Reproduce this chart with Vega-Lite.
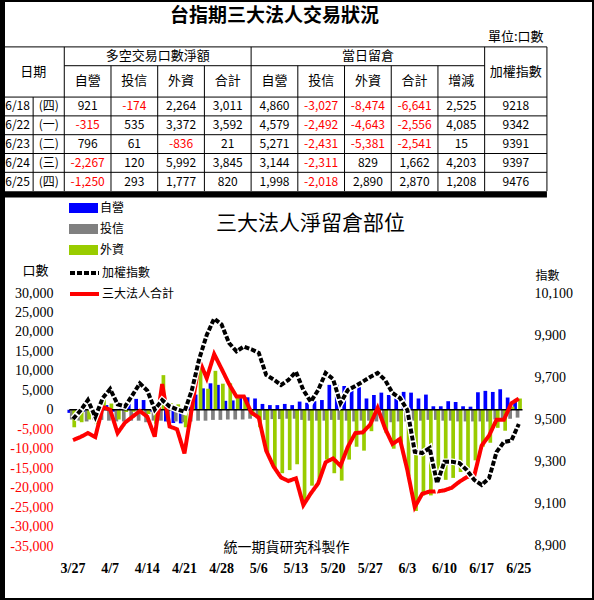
{
  "$schema": "https://vega.github.io/schema/vega-lite/v6.json",
  "width": 594,
  "height": 600,
  "autosize": {"type": "none"},
  "padding": 0,
  "background": "white",
  "config": {"view": {"stroke": "black", "strokeWidth": 4}},
  "datasets": {
    "bars": [
      {"d":"3/27","s":"自營","v":-800},{"d":"3/30","s":"自營","v":-1000},{"d":"3/31","s":"自營","v":-500},{"d":"4/1","s":"自營","v":-800},{"d":"4/2","s":"自營","v":-1000},{"d":"4/7","s":"自營","v":1200},{"d":"4/8","s":"自營","v":-500},{"d":"4/9","s":"自營","v":300},{"d":"4/10","s":"自營","v":1500},{"d":"4/13","s":"自營","v":2800},{"d":"4/14","s":"自營","v":2500},{"d":"4/15","s":"自營","v":-500},{"d":"4/16","s":"自營","v":500},{"d":"4/17","s":"自營","v":-3000},{"d":"4/20","s":"自營","v":-3400},{"d":"4/21","s":"自營","v":-3500},{"d":"4/22","s":"自營","v":800},{"d":"4/23","s":"自營","v":3900},{"d":"4/24","s":"自營","v":5500},{"d":"4/27","s":"自營","v":6800},{"d":"4/28","s":"自營","v":6400},{"d":"4/29","s":"自營","v":2300},{"d":"4/30","s":"自營","v":2400},{"d":"5/4","s":"自營","v":3000},{"d":"5/5","s":"自營","v":3200},{"d":"5/6","s":"自營","v":2900},{"d":"5/7","s":"自營","v":1500},{"d":"5/8","s":"自營","v":1200},{"d":"5/11","s":"自營","v":1200},{"d":"5/12","s":"自營","v":1500},{"d":"5/13","s":"自營","v":1200},{"d":"5/14","s":"自營","v":2100},{"d":"5/15","s":"自營","v":1800},{"d":"5/18","s":"自營","v":2200},{"d":"5/19","s":"自營","v":2500},{"d":"5/20","s":"自營","v":6400},{"d":"5/21","s":"自營","v":6400},{"d":"5/22","s":"自營","v":6100},{"d":"5/25","s":"自營","v":5600},{"d":"5/26","s":"自營","v":5800},{"d":"5/27","s":"自營","v":2900},{"d":"5/28","s":"自營","v":3800},{"d":"5/29","s":"自營","v":4400},{"d":"6/1","s":"自營","v":3800},{"d":"6/2","s":"自營","v":2900},{"d":"6/3","s":"自營","v":4600},{"d":"6/4","s":"自營","v":4400},{"d":"6/5","s":"自營","v":2900},{"d":"6/8","s":"自營","v":3900},{"d":"6/9","s":"自營","v":900},{"d":"6/10","s":"自營","v":900},{"d":"6/11","s":"自營","v":2200},{"d":"6/12","s":"自營","v":2000},{"d":"6/15","s":"自營","v":900},{"d":"6/16","s":"自營","v":800},{"d":"6/17","s":"自營","v":4500},{"d":"6/18","s":"自營","v":4860},{"d":"6/22","s":"自營","v":4579},{"d":"6/23","s":"自營","v":5271},{"d":"6/24","s":"自營","v":3144},{"d":"6/25","s":"自營","v":1998},
      {"d":"3/27","s":"投信","v":-2500},{"d":"3/30","s":"投信","v":-2800},{"d":"3/31","s":"投信","v":-3000},{"d":"4/1","s":"投信","v":-2500},{"d":"4/2","s":"投信","v":-2600},{"d":"4/7","s":"投信","v":-2800},{"d":"4/8","s":"投信","v":-3000},{"d":"4/9","s":"投信","v":-3000},{"d":"4/10","s":"投信","v":-2800},{"d":"4/13","s":"投信","v":-2800},{"d":"4/14","s":"投信","v":-3200},{"d":"4/15","s":"投信","v":-2800},{"d":"4/16","s":"投信","v":-2800},{"d":"4/17","s":"投信","v":-3000},{"d":"4/20","s":"投信","v":-3000},{"d":"4/21","s":"投信","v":-3200},{"d":"4/22","s":"投信","v":-3000},{"d":"4/23","s":"投信","v":-2800},{"d":"4/24","s":"投信","v":-2800},{"d":"4/27","s":"投信","v":-2600},{"d":"4/28","s":"投信","v":-2600},{"d":"4/29","s":"投信","v":-2500},{"d":"4/30","s":"投信","v":-2500},{"d":"5/4","s":"投信","v":-2500},{"d":"5/5","s":"投信","v":-2300},{"d":"5/6","s":"投信","v":-2200},{"d":"5/7","s":"投信","v":-2600},{"d":"5/8","s":"投信","v":-2400},{"d":"5/11","s":"投信","v":-2400},{"d":"5/12","s":"投信","v":-2300},{"d":"5/13","s":"投信","v":-2300},{"d":"5/14","s":"投信","v":-2600},{"d":"5/15","s":"投信","v":-2800},{"d":"5/18","s":"投信","v":-2800},{"d":"5/19","s":"投信","v":-2800},{"d":"5/20","s":"投信","v":-2600},{"d":"5/21","s":"投信","v":-2600},{"d":"5/22","s":"投信","v":-2800},{"d":"5/25","s":"投信","v":-3000},{"d":"5/26","s":"投信","v":-2800},{"d":"5/27","s":"投信","v":-2800},{"d":"5/28","s":"投信","v":-3000},{"d":"5/29","s":"投信","v":-3200},{"d":"6/1","s":"投信","v":-3200},{"d":"6/2","s":"投信","v":-3000},{"d":"6/3","s":"投信","v":-3000},{"d":"6/4","s":"投信","v":-2800},{"d":"6/5","s":"投信","v":-2800},{"d":"6/8","s":"投信","v":-2600},{"d":"6/9","s":"投信","v":-2600},{"d":"6/10","s":"投信","v":-2800},{"d":"6/11","s":"投信","v":-2800},{"d":"6/12","s":"投信","v":-3000},{"d":"6/15","s":"投信","v":-3000},{"d":"6/16","s":"投信","v":-3000},{"d":"6/17","s":"投信","v":-3000},{"d":"6/18","s":"投信","v":-3027},{"d":"6/22","s":"投信","v":-2492},{"d":"6/23","s":"投信","v":-2431},{"d":"6/24","s":"投信","v":-2311},{"d":"6/25","s":"投信","v":-2018},
      {"d":"3/27","s":"外資","v":-4500},{"d":"3/30","s":"外資","v":-3200},{"d":"3/31","s":"外資","v":-2500},{"d":"4/1","s":"外資","v":-3700},{"d":"4/2","s":"外資","v":4300},{"d":"4/7","s":"外資","v":1600},{"d":"4/8","s":"外資","v":-2500},{"d":"4/9","s":"外資","v":-600},{"d":"4/10","s":"外資","v":-500},{"d":"4/13","s":"外資","v":-300},{"d":"4/14","s":"外資","v":-1100},{"d":"4/15","s":"外資","v":-3600},{"d":"4/16","s":"外資","v":8900},{"d":"4/17","s":"外資","v":1700},{"d":"4/20","s":"外資","v":1400},{"d":"4/21","s":"外資","v":-4500},{"d":"4/22","s":"外資","v":2600},{"d":"4/23","s":"外資","v":11500},{"d":"4/24","s":"外資","v":5400},{"d":"4/27","s":"外資","v":10000},{"d":"4/28","s":"外資","v":6700},{"d":"4/29","s":"外資","v":6800},{"d":"4/30","s":"外資","v":3500},{"d":"5/4","s":"外資","v":2900},{"d":"5/5","s":"外資","v":-1600},{"d":"5/6","s":"外資","v":-4500},{"d":"5/7","s":"外資","v":-11000},{"d":"5/8","s":"外資","v":-15000},{"d":"5/11","s":"外資","v":-16300},{"d":"5/12","s":"外資","v":-15500},{"d":"5/13","s":"外資","v":-14000},{"d":"5/14","s":"外資","v":-23800},{"d":"5/15","s":"外資","v":-19500},{"d":"5/18","s":"外資","v":-17800},{"d":"5/19","s":"外資","v":-12800},{"d":"5/20","s":"外資","v":-16300},{"d":"5/21","s":"外資","v":-18200},{"d":"5/22","s":"外資","v":-12800},{"d":"5/25","s":"外資","v":-9500},{"d":"5/26","s":"外資","v":-10500},{"d":"5/27","s":"外資","v":-5500},{"d":"5/28","s":"外資","v":-500},{"d":"5/29","s":"外資","v":-6000},{"d":"6/1","s":"外資","v":-10000},{"d":"6/2","s":"外資","v":-8500},{"d":"6/3","s":"外資","v":-17100},{"d":"6/4","s":"外資","v":-26000},{"d":"6/5","s":"外資","v":-22000},{"d":"6/8","s":"外資","v":-22000},{"d":"6/9","s":"外資","v":-18500},{"d":"6/10","s":"外資","v":-18000},{"d":"6/11","s":"外資","v":-17500},{"d":"6/12","s":"外資","v":-16000},{"d":"6/15","s":"外資","v":-15000},{"d":"6/16","s":"外資","v":-13000},{"d":"6/17","s":"外資","v":-9500},{"d":"6/18","s":"外資","v":-8474},{"d":"6/22","s":"外資","v":-4643},{"d":"6/23","s":"外資","v":-5381},{"d":"6/24","s":"外資","v":829},{"d":"6/25","s":"外資","v":2890}
    ],
    "lines": [
      {"d":"3/27","s":"三大法人合計","v":-7800},{"d":"3/30","s":"三大法人合計","v":-7000},{"d":"3/31","s":"三大法人合計","v":-6000},{"d":"4/1","s":"三大法人合計","v":-7000},{"d":"4/2","s":"三大法人合計","v":700},{"d":"4/7","s":"三大法人合計","v":0},{"d":"4/8","s":"三大法人合計","v":-6000},{"d":"4/9","s":"三大法人合計","v":-3300},{"d":"4/10","s":"三大法人合計","v":-1800},{"d":"4/13","s":"三大法人合計","v":-300},{"d":"4/14","s":"三大法人合計","v":-1800},{"d":"4/15","s":"三大法人合計","v":-6900},{"d":"4/16","s":"三大法人合計","v":6600},{"d":"4/17","s":"三大法人合計","v":-4300},{"d":"4/20","s":"三大法人合計","v":-5000},{"d":"4/21","s":"三大法人合計","v":-11200},{"d":"4/22","s":"三大法人合計","v":400},{"d":"4/23","s":"三大法人合計","v":12600},{"d":"4/24","s":"三大法人合計","v":8100},{"d":"4/27","s":"三大法人合計","v":14300},{"d":"4/28","s":"三大法人合計","v":10500},{"d":"4/29","s":"三大法人合計","v":6600},{"d":"4/30","s":"三大法人合計","v":3400},{"d":"5/4","s":"三大法人合計","v":3400},{"d":"5/5","s":"三大法人合計","v":-700},{"d":"5/6","s":"三大法人合計","v":-2000},{"d":"5/7","s":"三大法人合計","v":-10500},{"d":"5/8","s":"三大法人合計","v":-14600},{"d":"5/11","s":"三大法人合計","v":-17400},{"d":"5/12","s":"三大法人合計","v":-18300},{"d":"5/13","s":"三大法人合計","v":-17600},{"d":"5/14","s":"三大法人合計","v":-24500},{"d":"5/15","s":"三大法人合計","v":-21500},{"d":"5/18","s":"三大法人合計","v":-18900},{"d":"5/19","s":"三大法人合計","v":-13500},{"d":"5/20","s":"三大法人合計","v":-12500},{"d":"5/21","s":"三大法人合計","v":-14400},{"d":"5/22","s":"三大法人合計","v":-9500},{"d":"5/25","s":"三大法人合計","v":-6000},{"d":"5/26","s":"三大法人合計","v":-5800},{"d":"5/27","s":"三大法人合計","v":-3800},{"d":"5/28","s":"三大法人合計","v":500},{"d":"5/29","s":"三大法人合計","v":-4800},{"d":"6/1","s":"三大法人合計","v":-8800},{"d":"6/2","s":"三大法人合計","v":-7500},{"d":"6/3","s":"三大法人合計","v":-15500},{"d":"6/4","s":"三大法人合計","v":-25000},{"d":"6/5","s":"三大法人合計","v":-21600},{"d":"6/8","s":"三大法人合計","v":-21000},{"d":"6/9","s":"三大法人合計","v":-21000},{"d":"6/10","s":"三大法人合計","v":-20700},{"d":"6/11","s":"三大法人合計","v":-20000},{"d":"6/12","s":"三大法人合計","v":-18500},{"d":"6/15","s":"三大法人合計","v":-17300},{"d":"6/16","s":"三大法人合計","v":-17000},{"d":"6/17","s":"三大法人合計","v":-9200},{"d":"6/18","s":"三大法人合計","v":-6641},{"d":"6/22","s":"三大法人合計","v":-2556},{"d":"6/23","s":"三大法人合計","v":-2541},{"d":"6/24","s":"三大法人合計","v":1662},{"d":"6/25","s":"三大法人合計","v":2870},
      {"d":"3/27","s":"加權指數","v":9500},{"d":"3/30","s":"加權指數","v":9540},{"d":"3/31","s":"加權指數","v":9590},{"d":"4/1","s":"加權指數","v":9510},{"d":"4/2","s":"加權指數","v":9600},{"d":"4/7","s":"加權指數","v":9643},{"d":"4/8","s":"加權指數","v":9570},{"d":"4/9","s":"加權指數","v":9560},{"d":"4/10","s":"加權指數","v":9614},{"d":"4/13","s":"加權指數","v":9670},{"d":"4/14","s":"加權指數","v":9635},{"d":"4/15","s":"加權指數","v":9545},{"d":"4/16","s":"加權指數","v":9590},{"d":"4/17","s":"加權指數","v":9560},{"d":"4/20","s":"加權指數","v":9546},{"d":"4/21","s":"加權指數","v":9535},{"d":"4/22","s":"加權指數","v":9638},{"d":"4/23","s":"加權指數","v":9788},{"d":"4/24","s":"加權指數","v":9900},{"d":"4/27","s":"加權指數","v":9978},{"d":"4/28","s":"加權指數","v":9950},{"d":"4/29","s":"加權指數","v":9862},{"d":"4/30","s":"加權指數","v":9822},{"d":"5/4","s":"加權指數","v":9845},{"d":"5/5","s":"加權指數","v":9832},{"d":"5/6","s":"加權指數","v":9815},{"d":"5/7","s":"加權指數","v":9710},{"d":"5/8","s":"加權指數","v":9688},{"d":"5/11","s":"加權指數","v":9662},{"d":"5/12","s":"加權指數","v":9686},{"d":"5/13","s":"加權指數","v":9725},{"d":"5/14","s":"加權指數","v":9638},{"d":"5/15","s":"加權指數","v":9582},{"d":"5/18","s":"加權指數","v":9638},{"d":"5/19","s":"加權指數","v":9719},{"d":"5/20","s":"加權指數","v":9690},{"d":"5/21","s":"加權指數","v":9576},{"d":"5/22","s":"加權指數","v":9638},{"d":"5/25","s":"加權指數","v":9657},{"d":"5/26","s":"加權指數","v":9678},{"d":"5/27","s":"加權指數","v":9700},{"d":"5/28","s":"加權指數","v":9719},{"d":"5/29","s":"加權指數","v":9686},{"d":"6/1","s":"加權指數","v":9624},{"d":"6/2","s":"加權指數","v":9600},{"d":"6/3","s":"加權指數","v":9543},{"d":"6/4","s":"加權指數","v":9344},{"d":"6/5","s":"加權指數","v":9338},{"d":"6/8","s":"加權指數","v":9362},{"d":"6/9","s":"加權指數","v":9195},{"d":"6/10","s":"加權指數","v":9297},{"d":"6/11","s":"加權指數","v":9297},{"d":"6/12","s":"加權指數","v":9290},{"d":"6/15","s":"加權指數","v":9257},{"d":"6/16","s":"加權指數","v":9210},{"d":"6/17","s":"加權指數","v":9186},{"d":"6/18","s":"加權指數","v":9218},{"d":"6/22","s":"加權指數","v":9342},{"d":"6/23","s":"加權指數","v":9391},{"d":"6/24","s":"加權指數","v":9397},{"d":"6/25","s":"加權指數","v":9476}
    ],
    "cellsA": [
      {"row":"6/18","col":"淨額自營","text":"921","v":921},{"row":"6/18","col":"淨額投信","text":"-174","v":-174},{"row":"6/18","col":"淨額外資","text":"2,264","v":2264},{"row":"6/18","col":"淨額合計","text":"3,011","v":3011},{"row":"6/18","col":"留倉自營","text":"4,860","v":4860},{"row":"6/18","col":"留倉投信","text":"-3,027","v":-3027},{"row":"6/18","col":"留倉外資","text":"-8,474","v":-8474},{"row":"6/18","col":"留倉合計","text":"-6,641","v":-6641},{"row":"6/18","col":"增減","text":"2,525","v":2525},
      {"row":"6/22","col":"淨額自營","text":"-315","v":-315},{"row":"6/22","col":"淨額投信","text":"535","v":535},{"row":"6/22","col":"淨額外資","text":"3,372","v":3372},{"row":"6/22","col":"淨額合計","text":"3,592","v":3592},{"row":"6/22","col":"留倉自營","text":"4,579","v":4579},{"row":"6/22","col":"留倉投信","text":"-2,492","v":-2492},{"row":"6/22","col":"留倉外資","text":"-4,643","v":-4643},{"row":"6/22","col":"留倉合計","text":"-2,556","v":-2556},{"row":"6/22","col":"增減","text":"4,085","v":4085},
      {"row":"6/23","col":"淨額自營","text":"796","v":796},{"row":"6/23","col":"淨額投信","text":"61","v":61},{"row":"6/23","col":"淨額外資","text":"-836","v":-836},{"row":"6/23","col":"淨額合計","text":"21","v":21},{"row":"6/23","col":"留倉自營","text":"5,271","v":5271},{"row":"6/23","col":"留倉投信","text":"-2,431","v":-2431},{"row":"6/23","col":"留倉外資","text":"-5,381","v":-5381},{"row":"6/23","col":"留倉合計","text":"-2,541","v":-2541},{"row":"6/23","col":"增減","text":"15","v":15},
      {"row":"6/24","col":"淨額自營","text":"-2,267","v":-2267},{"row":"6/24","col":"淨額投信","text":"120","v":120},{"row":"6/24","col":"淨額外資","text":"5,992","v":5992},{"row":"6/24","col":"淨額合計","text":"3,845","v":3845},{"row":"6/24","col":"留倉自營","text":"3,144","v":3144},{"row":"6/24","col":"留倉投信","text":"-2,311","v":-2311},{"row":"6/24","col":"留倉外資","text":"829","v":829},{"row":"6/24","col":"留倉合計","text":"1,662","v":1662},{"row":"6/24","col":"增減","text":"4,203","v":4203},
      {"row":"6/25","col":"淨額自營","text":"-1,250","v":-1250},{"row":"6/25","col":"淨額投信","text":"293","v":293},{"row":"6/25","col":"淨額外資","text":"1,777","v":1777},{"row":"6/25","col":"淨額合計","text":"820","v":820},{"row":"6/25","col":"留倉自營","text":"1,998","v":1998},{"row":"6/25","col":"留倉投信","text":"-2,018","v":-2018},{"row":"6/25","col":"留倉外資","text":"2,890","v":2890},{"row":"6/25","col":"留倉合計","text":"2,870","v":2870},{"row":"6/25","col":"增減","text":"1,208","v":1208}
    ],
    "cellsB": [
      {"row":"6/18","col":"日","text":"6/18"},{"row":"6/18","col":"星期","text":"(四)"},{"row":"6/18","col":"加權指數","text":"9218"},
      {"row":"6/22","col":"日","text":"6/22"},{"row":"6/22","col":"星期","text":"(一)"},{"row":"6/22","col":"加權指數","text":"9342"},
      {"row":"6/23","col":"日","text":"6/23"},{"row":"6/23","col":"星期","text":"(二)"},{"row":"6/23","col":"加權指數","text":"9391"},
      {"row":"6/24","col":"日","text":"6/24"},{"row":"6/24","col":"星期","text":"(三)"},{"row":"6/24","col":"加權指數","text":"9397"},
      {"row":"6/25","col":"日","text":"6/25"},{"row":"6/25","col":"星期","text":"(四)"},{"row":"6/25","col":"加權指數","text":"9476"}
    ],
    "vlines": [
      {"x":"|星期","y":"|6/18","y2":"|end"},
      {"x":"|淨額自營","y":"|group","y2":"|end"},
      {"x":"|淨額投信","y":"|columns","y2":"|end"},
      {"x":"|淨額外資","y":"|columns","y2":"|end"},
      {"x":"|淨額合計","y":"|columns","y2":"|end"},
      {"x":"|留倉自營","y":"|group","y2":"|end"},
      {"x":"|留倉投信","y":"|columns","y2":"|end"},
      {"x":"|留倉外資","y":"|columns","y2":"|end"},
      {"x":"|留倉合計","y":"|columns","y2":"|end"},
      {"x":"|增減","y":"|columns","y2":"|end"},
      {"x":"|加權指數","y":"|group","y2":"|end"},
      {"x":"|右","y":"|group","y2":"|end"}
    ],
    "hlines": [
      {"y":"|group","x":"|日期","x2":"|右"},
      {"y":"|columns","x":"|淨額自營","x2":"|加權指數"},
      {"y":"|6/18","x":"|日期","x2":"|右"},
      {"y":"|6/22","x":"|日期","x2":"|右"},
      {"y":"|6/23","x":"|日期","x2":"|右"},
      {"y":"|6/24","x":"|日期","x2":"|右"},
      {"y":"|6/25","x":"|日期","x2":"|右"}
    ]
  },
  "resolve": {"scale": {"x": "independent", "y": "independent"}},
  "layer": [
    {
      "data": {"name": "vlines"},
      "mark": {"type": "rule", "color": "black", "strokeWidth": 1},
      "encoding": {
        "x": {"field": "x", "type": "nominal", "bandPosition": 0, "axis": null, "scale": {"type": "band", "domain": ["|日期","日","|星期","星期","|淨額自營","淨額自營","淨額自營_","|淨額投信","淨額投信","淨額投信_","|淨額外資","淨額外資","淨額外資_","|淨額合計","淨額合計","淨額合計_","|留倉自營","留倉自營","留倉自營_","|留倉投信","留倉投信","留倉投信_","|留倉外資","留倉外資","留倉外資_","|留倉合計","留倉合計","留倉合計_","|增減","增減","增減_","|加權指數","加權指數_a","加權指數","加權指數_b","|右"], "range": [2, 562.5], "paddingInner": 0, "paddingOuter": 0}},
        "y": {"field": "y", "type": "nominal", "bandPosition": 0, "axis": null, "scale": {"type": "band", "domain": ["_t0","title","_t2","_t3","_t4","unit","_t6","|group","group","_t9","|columns","span","columns","_t13","_t14","|6/18","6/18","_6/18","|6/22","6/22","_6/22","|6/23","6/23","_6/23","|6/24","6/24","_6/24","|6/25","6/25","_6/25","|end"], "range": [3, 197.4], "paddingInner": 0, "paddingOuter": 0}},
        "y2": {"field": "y2", "bandPosition": 0}
      }
    },
    {
      "data": {"name": "hlines"},
      "mark": {"type": "rule", "color": "black", "strokeWidth": 1},
      "encoding": {
        "x": {"field": "x", "type": "nominal", "bandPosition": 0, "axis": null, "scale": {"type": "band", "domain": ["|日期","日","|星期","星期","|淨額自營","淨額自營","淨額自營_","|淨額投信","淨額投信","淨額投信_","|淨額外資","淨額外資","淨額外資_","|淨額合計","淨額合計","淨額合計_","|留倉自營","留倉自營","留倉自營_","|留倉投信","留倉投信","留倉投信_","|留倉外資","留倉外資","留倉外資_","|留倉合計","留倉合計","留倉合計_","|增減","增減","增減_","|加權指數","加權指數_a","加權指數","加權指數_b","|右"], "range": [2, 562.5], "paddingInner": 0, "paddingOuter": 0}},
        "x2": {"field": "x2", "bandPosition": 0},
        "y": {"field": "y", "type": "nominal", "bandPosition": 0, "axis": null, "scale": {"type": "band", "domain": ["_t0","title","_t2","_t3","_t4","unit","_t6","|group","group","_t9","|columns","span","columns","_t13","_t14","|6/18","6/18","_6/18","|6/22","6/22","_6/22","|6/23","6/23","_6/23","|6/24","6/24","_6/24","|6/25","6/25","_6/25","|end"], "range": [3, 197.4], "paddingInner": 0, "paddingOuter": 0}}
      }
    },
    {
      "data": {"values": [{"x": "|日期", "x2": "|右", "y": "|end"}]},
      "mark": {"type": "rect", "color": "black"},
      "encoding": {
        "x": {"field": "x", "type": "nominal", "bandPosition": 0, "axis": null, "scale": {"type": "band", "domain": ["|日期","日","|星期","星期","|淨額自營","淨額自營","淨額自營_","|淨額投信","淨額投信","淨額投信_","|淨額外資","淨額外資","淨額外資_","|淨額合計","淨額合計","淨額合計_","|留倉自營","留倉自營","留倉自營_","|留倉投信","留倉投信","留倉投信_","|留倉外資","留倉外資","留倉外資_","|留倉合計","留倉合計","留倉合計_","|增減","增減","增減_","|加權指數","加權指數_a","加權指數","加權指數_b","|右"], "range": [2, 562.5], "paddingInner": 0, "paddingOuter": 0}},
        "x2": {"field": "x2", "bandPosition": 0},
        "y": {"field": "y", "type": "nominal", "axis": null, "scale": {"type": "band", "domain": ["_t0","title","_t2","_t3","_t4","unit","_t6","|group","group","_t9","|columns","span","columns","_t13","_t14","|6/18","6/18","_6/18","|6/22","6/22","_6/22","|6/23","6/23","_6/23","|6/24","6/24","_6/24","|6/25","6/25","_6/25","|end"], "range": [3, 197.4], "paddingInner": 0, "paddingOuter": 0}}
      }
    },
    {
      "data": {"values": [{"x": "|日期"}]},
      "mark": {"type": "rule", "color": "black", "strokeWidth": 6},
      "encoding": {
        "x": {"field": "x", "type": "nominal", "bandPosition": 0, "axis": null, "scale": {"type": "band", "domain": ["|日期","日","|星期","星期","|淨額自營","淨額自營","淨額自營_","|淨額投信","淨額投信","淨額投信_","|淨額外資","淨額外資","淨額外資_","|淨額合計","淨額合計","淨額合計_","|留倉自營","留倉自營","留倉自營_","|留倉投信","留倉投信","留倉投信_","|留倉外資","留倉外資","留倉外資_","|留倉合計","留倉合計","留倉合計_","|增減","增減","增減_","|加權指數","加權指數_a","加權指數","加權指數_b","|右"], "range": [2, 562.5], "paddingInner": 0, "paddingOuter": 0}}
      }
    },
    {
      "data": {"name": "cellsA"},
      "mark": {"type": "text", "font": "Noto Sans CJK TC", "fontSize": 12, "align": "center", "baseline": "middle"},
      "encoding": {
        "x": {"field": "col", "type": "nominal", "bandPosition": 0.5, "axis": null, "scale": {"type": "band", "domain": ["|日期","日","|星期","星期","|淨額自營","淨額自營","淨額自營_","|淨額投信","淨額投信","淨額投信_","|淨額外資","淨額外資","淨額外資_","|淨額合計","淨額合計","淨額合計_","|留倉自營","留倉自營","留倉自營_","|留倉投信","留倉投信","留倉投信_","|留倉外資","留倉外資","留倉外資_","|留倉合計","留倉合計","留倉合計_","|增減","增減","增減_","|加權指數","加權指數_a","加權指數","加權指數_b","|右"], "range": [2, 562.5], "paddingInner": 0, "paddingOuter": 0}},
        "y": {"field": "row", "type": "nominal", "bandPosition": 0.5, "axis": null, "scale": {"type": "band", "domain": ["_t0","title","_t2","_t3","_t4","unit","_t6","|group","group","_t9","|columns","span","columns","_t13","_t14","|6/18","6/18","_6/18","|6/22","6/22","_6/22","|6/23","6/23","_6/23","|6/24","6/24","_6/24","|6/25","6/25","_6/25","|end"], "range": [3, 197.4], "paddingInner": 0, "paddingOuter": 0}},
        "text": {"field": "text"},
        "color": {"condition": {"test": "datum.v < 0", "value": "#ff0000"}, "value": "black"}
      }
    },
    {
      "data": {"values": [
        {"row":"columns","col":"淨額自營","text":"自營"},{"row":"columns","col":"淨額投信","text":"投信"},{"row":"columns","col":"淨額外資","text":"外資"},{"row":"columns","col":"淨額合計","text":"合計"},
        {"row":"columns","col":"留倉自營","text":"自營"},{"row":"columns","col":"留倉投信","text":"投信"},{"row":"columns","col":"留倉外資","text":"外資"},{"row":"columns","col":"留倉合計","text":"合計"},{"row":"columns","col":"增減","text":"增減"},
        {"row":"group","col":"留倉外資","text":"當日留倉"}
      ]},
      "mark": {"type": "text", "font": "Noto Sans CJK TC", "fontSize": 13, "align": "center", "baseline": "middle", "color": "black"},
      "encoding": {
        "x": {"field": "col", "type": "nominal", "bandPosition": 0.5, "axis": null, "scale": {"type": "band", "domain": ["|日期","日","|星期","星期","|淨額自營","淨額自營","淨額自營_","|淨額投信","淨額投信","淨額投信_","|淨額外資","淨額外資","淨額外資_","|淨額合計","淨額合計","淨額合計_","|留倉自營","留倉自營","留倉自營_","|留倉投信","留倉投信","留倉投信_","|留倉外資","留倉外資","留倉外資_","|留倉合計","留倉合計","留倉合計_","|增減","增減","增減_","|加權指數","加權指數_a","加權指數","加權指數_b","|右"], "range": [2, 562.5], "paddingInner": 0, "paddingOuter": 0}},
        "y": {"field": "row", "type": "nominal", "bandPosition": 0.5, "axis": null, "scale": {"type": "band", "domain": ["_t0","title","_t2","_t3","_t4","unit","_t6","|group","group","_t9","|columns","span","columns","_t13","_t14","|6/18","6/18","_6/18","|6/22","6/22","_6/22","|6/23","6/23","_6/23","|6/24","6/24","_6/24","|6/25","6/25","_6/25","|end"], "range": [3, 197.4], "paddingInner": 0, "paddingOuter": 0}},
        "text": {"field": "text"}
      }
    },
    {
      "data": {"values": [{"row":"title","col":"留倉自營","text":"台指期三大法人交易狀況"}]},
      "mark": {"type": "text", "font": "Noto Sans CJK TC", "fontSize": 19, "fontWeight": "bold", "align": "center", "baseline": "middle", "color": "black"},
      "encoding": {
        "x": {"field": "col", "type": "nominal", "bandPosition": 0.5, "axis": null, "scale": {"type": "band", "domain": ["|日期","日","|星期","星期","|淨額自營","淨額自營","淨額自營_","|淨額投信","淨額投信","淨額投信_","|淨額外資","淨額外資","淨額外資_","|淨額合計","淨額合計","淨額合計_","|留倉自營","留倉自營","留倉自營_","|留倉投信","留倉投信","留倉投信_","|留倉外資","留倉外資","留倉外資_","|留倉合計","留倉合計","留倉合計_","|增減","增減","增減_","|加權指數","加權指數_a","加權指數","加權指數_b","|右"], "range": [2, 562.5], "paddingInner": 0, "paddingOuter": 0}},
        "y": {"field": "row", "type": "nominal", "bandPosition": 1, "axis": null, "scale": {"type": "band", "domain": ["_t0","title","_t2","_t3","_t4","unit","_t6","|group","group","_t9","|columns","span","columns","_t13","_t14","|6/18","6/18","_6/18","|6/22","6/22","_6/22","|6/23","6/23","_6/23","|6/24","6/24","_6/24","|6/25","6/25","_6/25","|end"], "range": [3, 197.4], "paddingInner": 0, "paddingOuter": 0}},
        "text": {"field": "text"}
      }
    },
    {
      "data": {"name": "cellsB"},
      "mark": {"type": "text", "font": "Noto Sans CJK TC", "fontSize": 12, "align": "center", "baseline": "middle", "color": "black"},
      "encoding": {
        "x": {"field": "col", "type": "nominal", "bandPosition": 0, "axis": null, "scale": {"type": "band", "domain": ["|日期","日","|星期","星期","|淨額自營","淨額自營","淨額自營_","|淨額投信","淨額投信","淨額投信_","|淨額外資","淨額外資","淨額外資_","|淨額合計","淨額合計","淨額合計_","|留倉自營","留倉自營","留倉自營_","|留倉投信","留倉投信","留倉投信_","|留倉外資","留倉外資","留倉外資_","|留倉合計","留倉合計","留倉合計_","|增減","增減","增減_","|加權指數","加權指數_a","加權指數","加權指數_b","|右"], "range": [2, 562.5], "paddingInner": 0, "paddingOuter": 0}},
        "y": {"field": "row", "type": "nominal", "bandPosition": 0.5, "axis": null, "scale": {"type": "band", "domain": ["_t0","title","_t2","_t3","_t4","unit","_t6","|group","group","_t9","|columns","span","columns","_t13","_t14","|6/18","6/18","_6/18","|6/22","6/22","_6/22","|6/23","6/23","_6/23","|6/24","6/24","_6/24","|6/25","6/25","_6/25","|end"], "range": [3, 197.4], "paddingInner": 0, "paddingOuter": 0}},
        "text": {"field": "text"}
      }
    },
    {
      "data": {"values": [{"row":"unit","col":"加權指數","text":"單位:口數"},{"row":"group","col":"|淨額外資","text":"多空交易口數淨額"}]},
      "mark": {"type": "text", "font": "Noto Sans CJK TC", "fontSize": 13, "align": "center", "baseline": "middle", "color": "black"},
      "encoding": {
        "x": {"field": "col", "type": "nominal", "bandPosition": 0, "axis": null, "scale": {"type": "band", "domain": ["|日期","日","|星期","星期","|淨額自營","淨額自營","淨額自營_","|淨額投信","淨額投信","淨額投信_","|淨額外資","淨額外資","淨額外資_","|淨額合計","淨額合計","淨額合計_","|留倉自營","留倉自營","留倉自營_","|留倉投信","留倉投信","留倉投信_","|留倉外資","留倉外資","留倉外資_","|留倉合計","留倉合計","留倉合計_","|增減","增減","增減_","|加權指數","加權指數_a","加權指數","加權指數_b","|右"], "range": [2, 562.5], "paddingInner": 0, "paddingOuter": 0}},
        "y": {"field": "row", "type": "nominal", "bandPosition": 0.5, "axis": null, "scale": {"type": "band", "domain": ["_t0","title","_t2","_t3","_t4","unit","_t6","|group","group","_t9","|columns","span","columns","_t13","_t14","|6/18","6/18","_6/18","|6/22","6/22","_6/22","|6/23","6/23","_6/23","|6/24","6/24","_6/24","|6/25","6/25","_6/25","|end"], "range": [3, 197.4], "paddingInner": 0, "paddingOuter": 0}},
        "text": {"field": "text"}
      }
    },
    {
      "data": {"values": [{"row":"span","col":"|星期","text":"日期"},{"row":"span","col":"加權指數","text":"加權指數"}]},
      "mark": {"type": "text", "font": "Noto Sans CJK TC", "fontSize": 13, "align": "center", "baseline": "middle", "color": "black"},
      "encoding": {
        "x": {"field": "col", "type": "nominal", "bandPosition": 0, "axis": null, "scale": {"type": "band", "domain": ["|日期","日","|星期","星期","|淨額自營","淨額自營","淨額自營_","|淨額投信","淨額投信","淨額投信_","|淨額外資","淨額外資","淨額外資_","|淨額合計","淨額合計","淨額合計_","|留倉自營","留倉自營","留倉自營_","|留倉投信","留倉投信","留倉投信_","|留倉外資","留倉外資","留倉外資_","|留倉合計","留倉合計","留倉合計_","|增減","增減","增減_","|加權指數","加權指數_a","加權指數","加權指數_b","|右"], "range": [2, 562.5], "paddingInner": 0, "paddingOuter": 0}},
        "y": {"field": "row", "type": "nominal", "bandPosition": 0, "axis": null, "scale": {"type": "band", "domain": ["_t0","title","_t2","_t3","_t4","unit","_t6","|group","group","_t9","|columns","span","columns","_t13","_t14","|6/18","6/18","_6/18","|6/22","6/22","_6/22","|6/23","6/23","_6/23","|6/24","6/24","_6/24","|6/25","6/25","_6/25","|end"], "range": [3, 197.4], "paddingInner": 0, "paddingOuter": 0}},
        "text": {"field": "text"}
      }
    },
    {
      "data": {"name": "bars"},
      "mark": {"type": "bar", "width": {"band": 1.5}},
      "encoding": {
        "x": {"field": "d", "type": "nominal", "scale": {"type": "band", "domain": ["3/27","3/30","3/31","4/1","4/2","4/7","4/8","4/9","4/10","4/13","4/14","4/15","4/16","4/17","4/20","4/21","4/22","4/23","4/24","4/27","4/28","4/29","4/30","5/4","5/5","5/6","5/7","5/8","5/11","5/12","5/13","5/14","5/15","5/18","5/19","5/20","5/21","5/22","5/25","5/26","5/27","5/28","5/29","6/1","6/2","6/3","6/4","6/5","6/8","6/9","6/10","6/11","6/12","6/15","6/16","6/17","6/18","6/22","6/23","6/24","6/25"], "range": [69.3, 522.5], "paddingInner": 0, "paddingOuter": 0},
          "axis": {"orient": "bottom", "offset": -54, "zindex": 1, "values": ["3/27","4/7","4/14","4/21","4/28","5/6","5/13","5/20","5/27","6/3","6/10","6/17","6/25"], "domain": false, "ticks": false, "grid": false, "labelAngle": 0, "labelPadding": 15, "labelFont": "Liberation Serif", "labelFontSize": 14, "labelFontWeight": "bold", "labelColor": "black", "labelOverlap": false, "title": "統一期貨研究科製作", "titleX": 286, "titleY": 1, "titleAlign": "center", "titleBaseline": "middle", "titleFont": "Noto Sans CJK TC", "titleFontSize": 14, "titleFontWeight": "normal", "titleColor": "black"}},
        "xOffset": {"field": "s", "type": "nominal", "scale": {"domain": ["自營","投信","外資"], "paddingInner": 0, "paddingOuter": 0}},
        "y": {"field": "v", "type": "quantitative", "stack": null, "scale": {"domain": [-35000, 30000], "range": [546, 293], "nice": false, "zero": false},
          "axis": {"orient": "left", "offset": -68, "zindex": 1, "values": [30000,25000,20000,15000,10000,5000,0,-5000,-10000,-15000,-20000,-25000,-30000,-35000], "domain": false, "ticks": false, "grid": false, "labelPadding": 15, "labelFont": "Liberation Serif", "labelFontSize": 14, "labelFlush": false, "labelOverlap": false, "labelExpr": "(datum.value < 0 ? '-' : '') + format(abs(datum.value), ',')", "labelColor": {"condition": {"test": "datum.value < 0", "value": "#ff0000"}, "value": "black"}, "title": "口數", "titleAngle": 0, "titleX": -33, "titleY": 270, "titleAlign": "center", "titleBaseline": "middle", "titleFont": "Noto Sans CJK TC", "titleFontSize": 13, "titleFontWeight": "normal", "titleColor": "black"}},
        "color": {"field": "s", "type": "nominal", "scale": {"domain": ["自營","投信","外資"], "range": ["#0000ff","#808080","#99cc00"]},
          "legend": {"orient": "none", "legendX": 63, "legendY": 202, "title": null, "padding": 0, "symbolType": "M0,-1H5.8V1H0Z", "symbolSize": 100, "symbolStrokeWidth": 0, "labelFont": "Noto Sans CJK TC", "labelFontSize": 12, "labelColor": "black", "labelOffset": 25, "rowPadding": 9}}
      }
    },
    {
      "data": {"values": [{"from": "3/27", "to": "6/25"}]},
      "mark": {"type": "rule", "color": "black", "strokeWidth": 1.5},
      "encoding": {
        "x": {"field": "from", "type": "nominal", "bandPosition": 0, "axis": null, "scale": {"type": "band", "domain": ["3/27","3/30","3/31","4/1","4/2","4/7","4/8","4/9","4/10","4/13","4/14","4/15","4/16","4/17","4/20","4/21","4/22","4/23","4/24","4/27","4/28","4/29","4/30","5/4","5/5","5/6","5/7","5/8","5/11","5/12","5/13","5/14","5/15","5/18","5/19","5/20","5/21","5/22","5/25","5/26","5/27","5/28","5/29","6/1","6/2","6/3","6/4","6/5","6/8","6/9","6/10","6/11","6/12","6/15","6/16","6/17","6/18","6/22","6/23","6/24","6/25"], "range": [69.3, 522.5], "paddingInner": 0, "paddingOuter": 0}},
        "x2": {"field": "to", "bandPosition": 1},
        "y": {"datum": 0, "type": "quantitative", "axis": null, "scale": {"domain": [-35000, 30000], "range": [546, 293], "nice": false, "zero": false}}
      }
    },
    {
      "data": {"name": "lines"},
      "transform": [{"filter": {"field": "s", "equal": "三大法人合計"}}],
      "mark": {"type": "line", "strokeWidth": 4},
      "encoding": {
        "x": {"field": "d", "type": "nominal", "axis": null, "scale": {"type": "band", "domain": ["3/27","3/30","3/31","4/1","4/2","4/7","4/8","4/9","4/10","4/13","4/14","4/15","4/16","4/17","4/20","4/21","4/22","4/23","4/24","4/27","4/28","4/29","4/30","5/4","5/5","5/6","5/7","5/8","5/11","5/12","5/13","5/14","5/15","5/18","5/19","5/20","5/21","5/22","5/25","5/26","5/27","5/28","5/29","6/1","6/2","6/3","6/4","6/5","6/8","6/9","6/10","6/11","6/12","6/15","6/16","6/17","6/18","6/22","6/23","6/24","6/25"], "range": [69.3, 522.5], "paddingInner": 0, "paddingOuter": 0}},
        "y": {"field": "v", "type": "quantitative", "axis": null, "scale": {"domain": [-35000, 30000], "range": [546, 293], "nice": false, "zero": false}},
        "stroke": {"field": "s", "type": "nominal", "scale": {"domain": ["加權指數","三大法人合計"], "range": ["black","#ff0000"]},
          "legend": {"orient": "none", "legendX": 63, "legendY": 266, "title": null, "padding": 0, "symbolType": "M0,0H5.8", "symbolSize": 100, "symbolStrokeWidth": 4, "symbolFillColor": "transparent", "labelFont": "Noto Sans CJK TC", "labelFontSize": 12, "labelColor": "black", "labelOffset": 25, "rowPadding": 5}},
        "strokeDash": {"field": "s", "type": "nominal", "scale": {"domain": ["加權指數","三大法人合計"], "range": [[5,2],[1,0]]},
          "legend": {"orient": "none", "legendX": 63, "legendY": 266, "title": null, "padding": 0, "symbolType": "M0,0H5.8", "symbolSize": 100, "symbolStrokeWidth": 4, "symbolFillColor": "transparent", "labelFont": "Noto Sans CJK TC", "labelFontSize": 12, "labelColor": "black", "labelOffset": 25, "rowPadding": 5}}
      }
    },
    {
      "data": {"name": "lines"},
      "transform": [{"filter": {"field": "s", "equal": "加權指數"}}],
      "mark": {"type": "line", "strokeWidth": 6.5, "color": "white"},
      "encoding": {
        "x": {"field": "d", "type": "nominal", "scale": {"type": "band", "domain": ["3/27","3/30","3/31","4/1","4/2","4/7","4/8","4/9","4/10","4/13","4/14","4/15","4/16","4/17","4/20","4/21","4/22","4/23","4/24","4/27","4/28","4/29","4/30","5/4","5/5","5/6","5/7","5/8","5/11","5/12","5/13","5/14","5/15","5/18","5/19","5/20","5/21","5/22","5/25","5/26","5/27","5/28","5/29","6/1","6/2","6/3","6/4","6/5","6/8","6/9","6/10","6/11","6/12","6/15","6/16","6/17","6/18","6/22","6/23","6/24","6/25"], "range": [69.3, 522.5], "paddingInner": 0, "paddingOuter": 0},
          "axis": {"orient": "top", "zindex": 1, "labels": false, "ticks": false, "domain": false, "grid": false, "title": "三大法人淨留倉部位", "titleX": 310, "titleY": 223, "titleAlign": "center", "titleBaseline": "middle", "titleFont": "Noto Sans CJK TC", "titleFontSize": 21, "titleFontWeight": "normal", "titleColor": "black"}},
        "y": {"field": "v", "type": "quantitative", "scale": {"domain": [8900, 10100], "range": [545, 293], "nice": false, "zero": false},
          "axis": {"orient": "right", "offset": -69, "zindex": 1, "values": [8900,9100,9300,9500,9700,9900,10100], "domain": false, "ticks": false, "grid": false, "labelPadding": 9, "labelFont": "Liberation Serif", "labelFontSize": 14, "labelColor": "black", "labelFlush": false, "labelOverlap": false, "title": "指數", "titleAngle": 0, "titleX": 10, "titleY": 275, "titleAlign": "left", "titleBaseline": "middle", "titleFont": "Noto Sans CJK TC", "titleFontSize": 12, "titleFontWeight": "normal", "titleColor": "black"}}
      }
    },
    {
      "data": {"name": "lines"},
      "transform": [{"filter": {"field": "s", "equal": "加權指數"}}],
      "mark": {"type": "line", "strokeWidth": 4},
      "encoding": {
        "x": {"field": "d", "type": "nominal", "axis": null, "scale": {"type": "band", "domain": ["3/27","3/30","3/31","4/1","4/2","4/7","4/8","4/9","4/10","4/13","4/14","4/15","4/16","4/17","4/20","4/21","4/22","4/23","4/24","4/27","4/28","4/29","4/30","5/4","5/5","5/6","5/7","5/8","5/11","5/12","5/13","5/14","5/15","5/18","5/19","5/20","5/21","5/22","5/25","5/26","5/27","5/28","5/29","6/1","6/2","6/3","6/4","6/5","6/8","6/9","6/10","6/11","6/12","6/15","6/16","6/17","6/18","6/22","6/23","6/24","6/25"], "range": [69.3, 522.5], "paddingInner": 0, "paddingOuter": 0}},
        "y": {"field": "v", "type": "quantitative", "axis": null, "scale": {"domain": [8900, 10100], "range": [545, 293], "nice": false, "zero": false}},
        "stroke": {"field": "s", "type": "nominal", "scale": {"domain": ["加權指數","三大法人合計"], "range": ["black","#ff0000"]},
          "legend": {"orient": "none", "legendX": 63, "legendY": 266, "title": null, "padding": 0, "symbolType": "M0,0H5.8", "symbolSize": 100, "symbolStrokeWidth": 4, "symbolFillColor": "transparent", "labelFont": "Noto Sans CJK TC", "labelFontSize": 12, "labelColor": "black", "labelOffset": 25, "rowPadding": 5}},
        "strokeDash": {"field": "s", "type": "nominal", "scale": {"domain": ["加權指數","三大法人合計"], "range": [[5,2],[1,0]]},
          "legend": {"orient": "none", "legendX": 63, "legendY": 266, "title": null, "padding": 0, "symbolType": "M0,0H5.8", "symbolSize": 100, "symbolStrokeWidth": 4, "symbolFillColor": "transparent", "labelFont": "Noto Sans CJK TC", "labelFontSize": 12, "labelColor": "black", "labelOffset": 25, "rowPadding": 5}}
      }
    }
  ]
}
